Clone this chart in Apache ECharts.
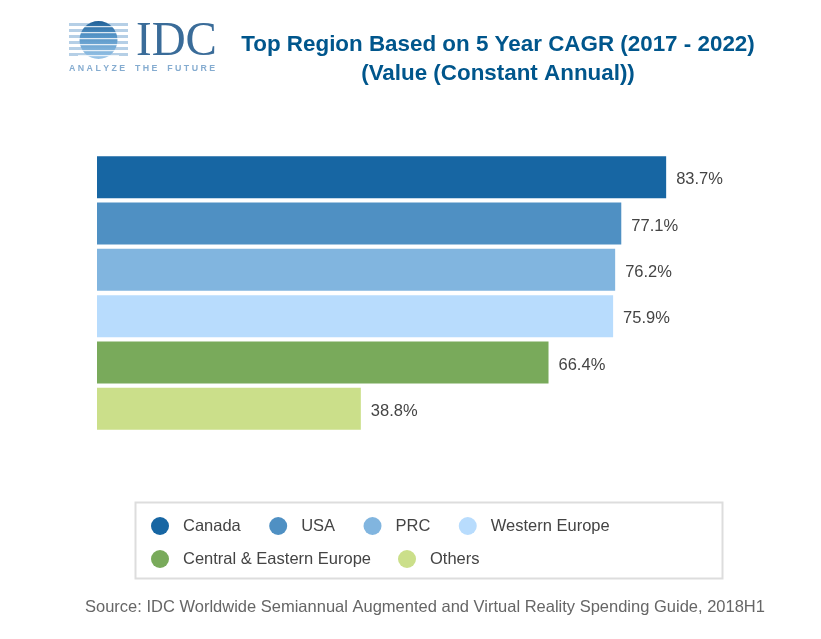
<!DOCTYPE html>
<html>
<head>
<meta charset="utf-8">
<title>Top Region Based on 5 Year CAGR</title>
<script src="https://cdn.jsdelivr.net/npm/echarts@6/dist/echarts.min.js"></script>
<style>
html, body { margin: 0; padding: 0; background: #fff; }
#main { width: 821px; height: 639px; }
</style>
</head>
<body>
<div id="main"></div>
<script>
var regions = ['Canada', 'USA', 'PRC', 'Western Europe', 'Central & Eastern Europe', 'Others'];
var cagr = [83.7, 77.1, 76.2, 75.9, 66.4, 38.8];
var colors = ['#1766a3', '#4f90c3', '#81b5df', '#b8dcfd', '#79aa5b', '#cbdf8a'];
var legendRow1 = ['Canada', 'USA', 'PRC', 'Western Europe'];
var legendRow2 = ['Central & Eastern Europe', 'Others'];

var chart = echarts.init(document.getElementById('main'), null, {renderer: 'canvas'});
var FONT = '"Liberation Sans", Arial, sans-serif';

// one series per region, so the legend can list them
var series = regions.map(function (name, i) {
    return {
        name: name,
        type: 'bar',
        stack: 'all',
        barWidth: 42,
        animation: false,
        itemStyle: {color: colors[i]},
        label: {
            show: true,
            position: 'right',
            distance: 10,
            offset: [0, 2.5],
            formatter: '{c}%',
            color: '#444',
            fontSize: 16.5,
            fontFamily: FONT
        },
        data: cagr.map(function (v, j) {
            return j === i ? v : '-';
        })
    };
});

function makeLegend(names, top, gap) {
    return {
        data: names.map(function (n) {
            return {name: n, icon: 'circle'};
        }),
        left: 146,
        top: top,
        orient: 'horizontal',
        itemWidth: 18,
        itemHeight: 18,
        itemGap: gap,
        selectedMode: false,
        textStyle: {color: '#444', fontSize: 16.5, fontFamily: FONT, padding: [0, 0, 0, 9]}
    };
}

// logo stripes
var logo = [];
var stripeY = [23, 29, 35, 41, 47, 53];
stripeY.forEach(function (y) {
    logo.push({type: 'rect', shape: {x: 69, y: y, width: 59, height: 3}, style: {fill: '#b5cfe6'}});
});
logo.push({type: 'circle', shape: {cx: 98.5, cy: 40, r: 19}, style: {fill: {
    type: 'linear', x: 0, y: 0, x2: 0, y2: 1,
    colorStops: [{offset: 0, color: '#1f5f96'}, {offset: 0.35, color: '#4f90c3'}, {offset: 1, color: '#9cc6e8'}]
}}});
[26, 32, 38, 44, 50, 55].forEach(function (y) {
    logo.push({type: 'rect', shape: {x: 78, y: y, width: 41, height: 1.3}, style: {fill: '#fff', opacity: 0.8}});
});
logo.push({type: 'text', x: 136, y: 17, scaleY: 1.05, style: {
    text: 'IDC', font: '47px "Liberation Serif", serif', fill: '#3a6c99'
}});
logo.push({type: 'text', x: 69, y: 64, style: {
    text: 'A N A L Y Z E    T H E    F U T U R E', font: 'bold 8.8px ' + FONT, fill: '#85acd0'
}});

var option = {
    animation: false,
    backgroundColor: '#fff',
    title: {
        text: 'Top Region Based on 5 Year CAGR (2017 - 2022)\n(Value (Constant Annual))',
        left: 493,
        top: 25,
        textAlign: 'center',
        textStyle: {color: '#00568c', fontSize: 22.4, fontWeight: 'bold', fontFamily: FONT, lineHeight: 29}
    },
    grid: {left: 97, top: 154, width: 680, height: 278},
    xAxis: {type: 'value', min: 0, max: 100, show: false},
    yAxis: {type: 'category', data: regions, inverse: true, show: false},
    legend: [makeLegend(legendRow1, 512, 28.4), makeLegend(legendRow2, 545, 27)],
    series: series,
    graphic: logo.concat([
        {type: 'rect', shape: {x: 135.5, y: 502.5, width: 587, height: 76}, style: {fill: 'none', stroke: '#ddd', lineWidth: 2}},
        {type: 'text', x: 85, y: 599, style: {
            text: 'Source: IDC Worldwide Semiannual Augmented and Virtual Reality Spending Guide, 2018H1',
            font: '16.5px ' + FONT, fill: '#666'
        }}
    ])
};
chart.setOption(option);
</script>
</body>
</html>
